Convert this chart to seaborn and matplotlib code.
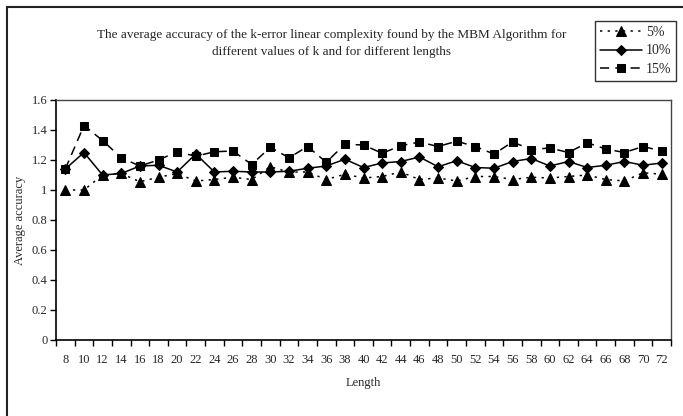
import numpy as np
import pandas as pd
import seaborn as sns
import matplotlib.pyplot as plt
from matplotlib.patches import Rectangle
from matplotlib.ticker import FixedLocator

# values
lengths = list(range(8, 74, 2))
acc_5 = [1.00, 1.00, 1.10, 1.11, 1.055, 1.085, 1.11, 1.06, 1.07, 1.085,
         1.07, 1.155, 1.12, 1.12, 1.07, 1.105, 1.08, 1.09, 1.12, 1.07, 1.08, 1.06,
         1.09, 1.09, 1.07, 1.085, 1.08, 1.09, 1.10, 1.07, 1.06, 1.115, 1.105]
acc_10 = [1.14, 1.25, 1.10, 1.11, 1.16, 1.165, 1.12, 1.24, 1.12, 1.125,
          1.12, 1.12, 1.125, 1.145, 1.16, 1.205, 1.15, 1.18, 1.19, 1.22, 1.155, 1.195,
          1.15, 1.145, 1.19, 1.21, 1.16, 1.19, 1.15, 1.165, 1.19, 1.165, 1.18]
acc_15 = [1.14, 1.43, 1.33, 1.215, 1.16, 1.20, 1.255, 1.225, 1.255, 1.26,
          1.17, 1.285, 1.215, 1.29, 1.185, 1.305, 1.30, 1.245, 1.295, 1.32, 1.29, 1.325,
          1.29, 1.24, 1.32, 1.27, 1.28, 1.25, 1.315, 1.273, 1.25, 1.29, 1.26]
y_ticks = [0, 0.2, 0.4, 0.6, 0.8, 1, 1.2, 1.4, 1.6]
y_labels = ['0', '0.2', '0.4', '0.6', '0.8', '1', '1.2', '1.4', '1.6']

sns.set_style('white')
plt.rcParams['font.family'] = ['Liberation Serif', 'DejaVu Serif']

fig = plt.figure(figsize=(6.83, 4.16), dpi=100)
ax = fig.add_axes([56/683, 1 - 340/416, 615/683, 240/416])

# 5% dotted + triangles, 10% solid + diamonds, 15% dashed + squares
sns.lineplot(x=lengths, y=acc_5, ax=ax, color='black', lw=1.1, marker='^', ms=6.5,
             mec='black', linestyle=(0, (1.5, 3.5)), label='5%')
sns.lineplot(x=lengths, y=acc_10, ax=ax, color='black', lw=1.1, marker='D', ms=4.8,
             mec='black', linestyle='-', label='10%')
sns.lineplot(x=lengths, y=acc_15, ax=ax, color='black', lw=1.1, marker='s', ms=6.3,
             mec='black', linestyle=(0, (6, 4)), label='15%')

ax.set_xlim(7, 73)
ax.set_ylim(0, 1.6)
ax.set_xticks(lengths)
ax.set_xticklabels([str(v) for v in lengths], fontsize=9)
ax.xaxis.set_minor_locator(FixedLocator(np.arange(7, 74, 2)))
ax.tick_params(axis='x', which='major', length=0, pad=10)
ax.tick_params(axis='x', which='minor', length=4, width=1, color='black', bottom=True)
ax.set_yticks(y_ticks)
ax.set_yticklabels(y_labels, fontsize=9)
ax.tick_params(axis='y', length=4, width=1, color='black', left=True, pad=2)

for side in ['left', 'bottom']:
    ax.spines[side].set_color('black')
    ax.spines[side].set_linewidth(1.2)
for side in ['top', 'right']:
    ax.spines[side].set_color('#444444')
    ax.spines[side].set_linewidth(1.0)

ax.set_xlabel('Length', fontsize=9, labelpad=8)
ax.set_ylabel('Average accuracy', fontsize=9, labelpad=4)

fig.text(332/683, 1 - 35/416, 'The average accuracy of the k-error linear complexity found by the MBM Algorithm for',
         ha='center', va='center', fontsize=9.5)
fig.text(332/683, 1 - 52/416, 'different values of k and for different lengths',
         ha='center', va='center', fontsize=9.5)

leg = ax.legend(loc='upper left', bbox_to_anchor=(595/683, 1 - 21/416), bbox_transform=fig.transFigure,
                frameon=True, fancybox=False, fontsize=10, handlelength=3.0, borderpad=0.35,
                labelspacing=0.4, handletextpad=0.3, borderaxespad=0)
leg.get_frame().set_edgecolor('black')
leg.get_frame().set_linewidth(1.0)

# outer chart border (right and bottom edges fall outside the crop)
fig.patches.append(Rectangle((7/683, -0.1), 1.2, 1.1 - 7/416, transform=fig.transFigure,
                             fill=False, edgecolor='#222222', lw=1.5))

fig.savefig('out.png', dpi=100)
